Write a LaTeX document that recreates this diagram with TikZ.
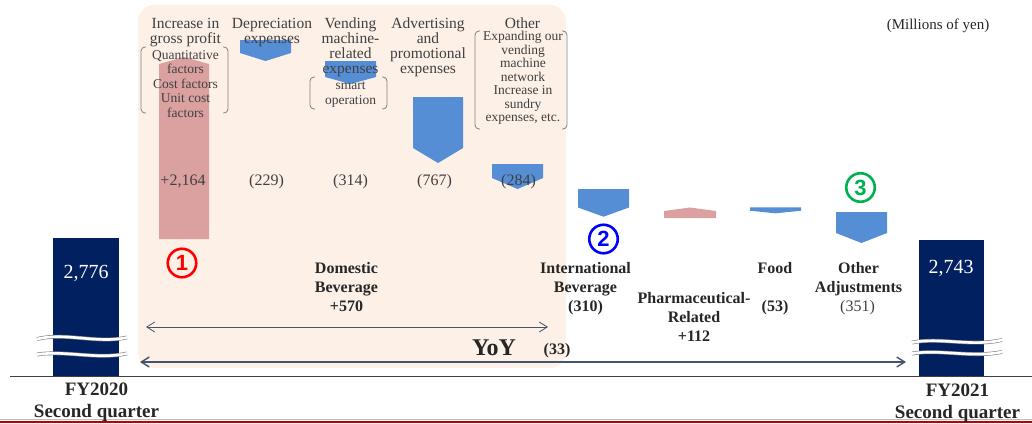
\documentclass[tikz,border=0pt]{standalone}
\usepackage{fontspec}
\setmainfont{Liberation Serif}
\setsansfont{Liberation Sans}
\usetikzlibrary{arrows.meta}
\definecolor{peach}{RGB}{253,240,231}
\definecolor{pinkbar}{RGB}{219,160,160}
\definecolor{bluebar}{RGB}{85,142,213}
\definecolor{navy}{RGB}{0,32,96}
\definecolor{txtgray}{RGB}{64,64,64}
\definecolor{txtdark}{RGB}{38,38,38}
\definecolor{arrowc}{RGB}{68,84,106}
\definecolor{brk}{RGB}{127,127,127}
\definecolor{axisc}{RGB}{64,64,64}
\definecolor{redline}{RGB}{192,0,0}
\definecolor{greennum}{RGB}{0,176,80}
\begin{document}
\begin{tikzpicture}[x=1pt,y=-1pt,
  hd/.style={anchor=base, align=center, inner sep=0pt, text=txtgray, font=\fontsize{15.5}{15}\selectfont},
  sub/.style={anchor=base, align=center, inner sep=0pt, text=txtgray, font=\fontsize{13.5}{14.4}\selectfont},
  subb/.style={anchor=base, align=center, inner sep=0pt, text=txtgray, font=\fontsize{13.5}{13.5}\selectfont},
  val/.style={anchor=base, inner sep=0pt, text=txtgray, font=\fontsize{16}{19}\selectfont},
  seg/.style={anchor=base, align=center, inner sep=0pt, text=txtdark, font=\fontsize{16}{19.3}\selectfont\bfseries},
  period/.style={anchor=base, align=center, inner sep=0pt, text=txtdark, font=\fontsize{19}{22}\selectfont\bfseries},
  bigval/.style={anchor=base, inner sep=0pt, text=white, font=\fontsize{20}{24}\selectfont},
  circnum/.style={circle, draw, line width=2.6pt, minimum size=28.5pt, inner sep=0pt, font=\fontsize{22}{22}\selectfont\sffamily\bfseries},
  brack/.style={draw=brk, line width=0.8pt, rounded corners=4pt},
  dimarrow/.style={draw=arrowc, {Straight Barb[length=8pt,width=10pt]}-{Straight Barb[length=8pt,width=10pt]}},
  wave/.style={draw=brk, line width=0.6pt, double=white, double distance=2.6pt},
  upbar/.style={fill=pinkbar},
  downbar/.style={fill=bluebar}
]
\useasboundingbox (0,0) rectangle (1032,423);

% background panel
\fill[peach, rounded corners=16pt] (138,5) rectangle (566,368);

% bottom rules
\draw[gray!50, line width=0.8pt] (0,419.6) -- (1032,419.6);
\fill[redline] (0,420.5) rectangle (1032,423);

% waterfall shapes
\fill[upbar] (159,239) -- (159,64) -- (184,57) -- (209,64) -- (209,239) -- cycle;
\fill[downbar] (240,40) -- (291,40) -- (291,53) -- (265.5,61) -- (240,53) -- cycle;
\fill[downbar] (325,61) -- (376,61) -- (376,77) -- (350.5,84) -- (325,77) -- cycle;
\fill[downbar] (413,97) -- (463,97) -- (463,148) -- (438,163) -- (413,148) -- cycle;
\fill[downbar] (492,164) -- (543,164) -- (543,178) -- (517.5,189) -- (492,178) -- cycle;
\fill[downbar] (578,189) -- (629,189) -- (629,207.5) -- (603.5,216.7) -- (578,207.5) -- cycle;
\fill[upbar] (664,218) -- (664,211) -- (690,207.5) -- (716,211) -- (716,218) -- cycle;
\fill[downbar] (750,207.3) -- (801,207.3) -- (801,210.7) -- (775.5,213.3) -- (750,210.7) -- cycle;
\fill[downbar] (836,212) -- (887,212) -- (887,233) -- (861.5,243) -- (836,233) -- cycle;

% period bars
\fill[navy] (53,238) rectangle (119,376);
\fill[navy] (919,240) rectangle (984,376);
\draw[wave] (37,339) .. controls (65,332) and (97,344) .. (127,337.5);
\draw[wave] (37,354.5) .. controls (65,350) and (97,360) .. (127,353.5);
\draw[wave] (912,342.5) .. controls (940,337) and (972,347) .. (1002,340);
\draw[wave] (912,353.5) .. controls (940,349) and (972,358) .. (1002,352);

% axis
\draw[axisc, line width=0.9pt] (10,376.5) -- (1032,376.5);

% headings (anchor base = baseline of last line)
\node[hd] (hgp) at (185.5,43) {Increase in\\gross profit};
\node[hd] (hdep) at (272,43) {Depreciation\\expenses};
\node[hd] (hvm) at (350.5,73) {Vending\\machine-\\related\\expenses};
\node[hd] (hadv) at (428,73) {Advertising\\and\\promotional\\expenses};
\node[hd] (hoth) at (522.5,28) {Other};

% bracketed details
\node[sub] (bgp) at (185.5,117) {Quantitative\\factors\\Cost factors\\Unit cost\\factors};
\draw[brack] (146,47) -- (141,47) -- (141,113) -- (146,113);
\draw[brack] (223,47) -- (228,47) -- (228,113) -- (223,113);
\node[sub] (bvm) at (350.5,104) {smart\\operation};
\draw[brack] (315,77) -- (310,77) -- (310,109) -- (315,109);
\draw[brack] (382,77) -- (387,77) -- (387,109) -- (382,109);
\node[subb] (both) at (523,121.5) {Expanding our\\vending\\machine\\network\\Increase in\\sundry\\expenses, etc.};
\draw[brack] (480,31) -- (475,31) -- (475,129) -- (480,129);
\draw[brack] (562,31) -- (567,31) -- (567,129) -- (562,129);

% values
\node[val] (vgp) at (183,185) {+2,164};
\node[val] (vdep) at (266.5,185) {(229)};
\node[val] (vvm) at (350.5,185) {(314)};
\node[val] (vadv) at (434.5,185) {(767)};
\node[val] (voth) at (518.5,185) {(284)};

% segment labels
\node[seg] (ldom) at (346.5,311.6) {Domestic\\Beverage\\+570};
\node[seg] (lint) at (585.5,311.6) {International\\Beverage\\(310)};
\node[seg] (lpha) at (694,341.6) {Pharmaceutical-\\Related\\+112};
\node[seg] (lfood) at (775,273) {Food};
\node[seg] (vfood) at (775,311) {(53)};
\node[seg] (loth) at (858.5,292.3) {Other\\Adjustments};
\node[val] (voth2) at (857.5,311) {(351)};
\node[seg] (v33) at (557,354) {(33)};
\node[anchor=base, inner sep=0pt, text=txtdark, font=\fontsize{24}{24}\selectfont\bfseries] (yoy) at (494,355) {YoY};

% circled numbers
\node[circnum, draw=red, text=red] (c1) at (182,263) {1};
\node[circnum, draw=blue, text=blue] (c2) at (603.5,239) {2};
\node[circnum, draw=greennum, text=greennum] (c3) at (860.5,187.5) {3};

% period values and labels
\node[bigval] (p20) at (86,278) {2,776};
\node[bigval] (p21) at (951,273) {2,743};
\node[period] (lp20) at (96.5,417) {FY2020\\Second quarter};
\node[period] (lp21) at (957.5,418) {FY2021\\Second quarter};
\node[anchor=base, inner sep=0pt, text=txtdark, font=\fontsize{15}{18}\selectfont] (unit) at (938,29) {(Millions of yen)};

% dimension arrows
\coordinate (domL) at (146,327);
\coordinate (domR) at (548,327);
\coordinate (yoyL) at (140,362);
\coordinate (yoyR) at (906,362);
\draw[dimarrow, line width=0.8pt] (domL) -- (domR);
\draw[dimarrow, line width=1.4pt] (yoyL) -- (yoyR);
\end{tikzpicture}
\end{document}
